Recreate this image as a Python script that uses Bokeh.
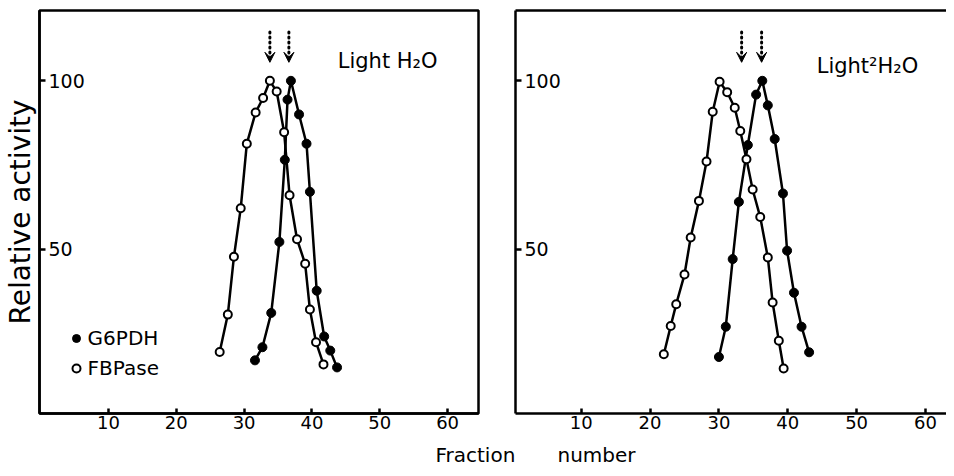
from bokeh.plotting import figure
from bokeh.models import (ColumnDataSource, FixedTicker, Range1d, Label, Legend,
                          LegendItem, Arrow, VeeHead, CustomLabelingPolicy, LinearAxis)
from bokeh.layouts import row, column
from bokeh.core.properties import value
from bokeh.embed import file_html
from bokeh.resources import INLINE

FONT = "DejaVu Sans"

# ---- data: Light H2O ----
h2o_g6pdh_fraction = [31.6, 32.7, 34.0, 35.2, 36.0, 36.4, 36.9, 38.1, 39.2, 39.7, 40.7, 41.8, 42.7, 43.7]
h2o_g6pdh_activity = [16.9, 20.8, 31.0, 52.1, 76.5, 94.4, 100.0, 90.0, 81.3, 67.0, 37.6, 24.0, 19.8, 14.8]
h2o_fbpase_fraction = [26.4, 27.6, 28.5, 29.5, 30.4, 31.7, 32.8, 33.8, 34.8, 35.9, 36.7, 37.8, 39.0, 39.7, 40.6, 41.7]
h2o_fbpase_activity = [19.4, 30.5, 47.7, 62.1, 81.3, 90.6, 94.9, 100.0, 96.8, 84.7, 66.0, 52.9, 45.6, 32.0, 22.3, 15.7]
h2o_arrow_fraction = [33.8, 36.6]

# ---- data: Light 2H2O ----
d2o_g6pdh_fraction = [30.0, 31.0, 32.0, 32.9, 34.2, 35.4, 36.3, 37.1, 38.1, 39.3, 39.9, 40.9, 42.0, 43.1]
d2o_g6pdh_activity = [17.9, 26.9, 47.0, 64.0, 80.9, 95.9, 100.0, 92.7, 82.7, 66.5, 49.5, 37.0, 26.9, 19.3]
d2o_fbpase_fraction = [22.0, 23.0, 23.8, 25.0, 25.9, 27.1, 28.2, 29.1, 30.1, 31.2, 32.3, 33.1, 34.0, 34.9,
                       36.0, 37.1, 37.8, 38.7, 39.4]
d2o_fbpase_activity = [18.7, 27.1, 33.6, 42.4, 53.4, 64.3, 76.0, 90.8, 99.7, 96.6, 92.0, 85.1, 76.7, 67.7,
                       59.5, 47.5, 34.1, 22.7, 14.5]
d2o_arrow_fraction = [33.3, 36.2]

# ---- ticks ----
x_ticks = [10, 20, 30, 40, 50, 60]
y_ticks = [50, 100]
y_tick_labels = ["50", "100"]

Y_RANGE = (1.1, 120.9)
TOP_H = 436


def make_panel(xr, width, mb_left, mb_right, g_x, g_y, f_x, f_y, arrows_x,
               title, title_x, title_y, legend=False, ylabel=None, open_right=False):
    p = figure(width=width, height=TOP_H, x_range=Range1d(*xr), y_range=Range1d(*Y_RANGE),
               output_backend="svg", toolbar_location=None,
               min_border_left=mb_left, min_border_right=mb_right,
               min_border_top=10, min_border_bottom=23)
    p.grid.visible = False
    p.background_fill_color = "white"
    p.border_fill_color = "white"
    if open_right:
        # frame continues past the picture's right edge: draw only the top edge
        p.outline_line_color = None
        top = LinearAxis(ticker=FixedTicker(ticks=[]), axis_line_width=2.5,
                         major_tick_line_color=None, minor_tick_line_color=None)
        p.add_layout(top, "above")
    else:
        p.outline_line_color = "black"
        p.outline_line_width = 2.5

    xa = p.xaxis[0] if not open_right else p.below[0]
    xa.ticker = FixedTicker(ticks=x_ticks)
    xa.minor_tick_line_color = None
    xa.major_tick_in = 5
    xa.major_tick_out = 0
    xa.major_tick_line_width = 2.5
    xa.axis_line_width = 2.5
    xa.major_label_standoff = 2
    xa.major_label_text_font = FONT
    xa.major_label_text_font_size = "18px"
    xa.major_label_text_color = "black"

    ya = p.yaxis[0]
    ya.ticker = FixedTicker(ticks=y_ticks)
    ya.minor_tick_line_color = None
    ya.major_tick_in = 6
    ya.major_tick_out = 0
    ya.major_tick_line_width = 2.5
    ya.axis_line_width = 2.5
    ya.major_label_standoff = 0
    ya.major_label_text_font_size = "0px"
    ya.major_label_policy = CustomLabelingPolicy(code="return []")
    if ylabel:
        ya.axis_label = ylabel
        ya.axis_label_text_font = FONT
        ya.axis_label_text_font_size = "28px"
        ya.axis_label_text_font_style = "normal"
        ya.axis_label_text_color = "black"
        ya.axis_label_standoff = 3

    # y tick labels drawn inside the frame
    p.text(x=[xr[0]] * len(y_ticks), y=y_ticks, text=y_tick_labels, x_offset=9,
           text_baseline="middle", text_align="left", text_font=value(FONT),
           text_font_size="19px", text_color="black")

    # curves
    p.line(f_x, f_y, line_color="black", line_width=2.5)
    p.line(g_x, g_y, line_color="black", line_width=2.5)
    f_r = p.scatter(f_x, f_y, marker="circle", size=8, fill_color="white",
                    line_color="black", line_width=2)
    g_r = p.scatter(g_x, g_y, marker="circle", size=9, fill_color="black",
                    line_color="black", line_width=1)

    # peak arrows
    asrc = ColumnDataSource(dict(x0=arrows_x, x1=arrows_x,
                                 y0=[114.5] * len(arrows_x), y1=[105.5] * len(arrows_x)))
    p.add_layout(Arrow(source=asrc, x_start="x0", y_start="y0", x_end="x1", y_end="y1",
                       line_color="black", line_width=3, line_dash="1 4", line_cap="round",
                       end=VeeHead(size=10, fill_color="black", line_color="black", line_width=1)))

    p.add_layout(Label(x=title_x, y=title_y, text=title, text_font=FONT,
                       text_font_size="21px", text_color="black",
                       text_baseline="alphabetic", text_align="left"))

    if legend:
        lg = Legend(items=[LegendItem(label="G6PDH", renderers=[g_r]),
                           LegendItem(label="FBPase", renderers=[f_r])],
                    location=(26.6, 33), padding=0, margin=0, spacing=6,
                    glyph_width=20, glyph_height=20, label_standoff=2,
                    label_text_font=FONT, label_text_font_size="20px",
                    label_text_color="black", border_line_color=None,
                    background_fill_alpha=0)
        p.add_layout(lg)
    return p


p1 = make_panel((-0.16, 64.55), 496, 37, 18,
                h2o_g6pdh_fraction, h2o_g6pdh_activity,
                h2o_fbpase_fraction, h2o_fbpase_activity, h2o_arrow_fraction,
                "Light H\u2082O", 43.8, 105.8, legend=True, ylabel="Relative activity")
p2 = make_panel((0.46, 63.05), 450, 19, 0,
                d2o_g6pdh_fraction, d2o_g6pdh_activity,
                d2o_fbpase_fraction, d2o_fbpase_activity, d2o_arrow_fraction,
                "Light\u00b2H\u2082O", 44.2, 104.4, open_right=True)

p3 = figure(width=946, height=32, x_range=Range1d(0, 946), y_range=Range1d(0, 32),
            output_backend="svg", toolbar_location=None, min_border=0,
            x_axis_location=None, y_axis_location=None)
p3.grid.visible = False
p3.outline_line_color = None
p3.add_layout(Label(x=435, y=14, text="Fraction", text_font=FONT, text_font_size="20px",
                    text_color="black", text_baseline="middle"))
p3.add_layout(Label(x=557, y=14, text="number", text_font=FONT, text_font_size="20px",
                    text_color="black", text_baseline="middle"))

layout = column(row(p1, p2), p3)
open("out.html", "w").write(file_html(layout, INLINE))
